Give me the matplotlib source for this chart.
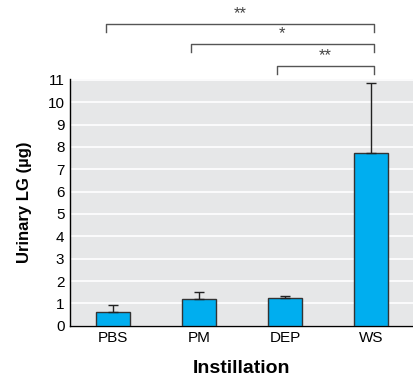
import matplotlib.pyplot as plt
import numpy as np

plt.rcParams['font.family'] = ['Liberation Sans', 'DejaVu Sans']

groups = ["PBS", "PM", "DEP", "WS"]
means = [0.63, 1.21, 1.26, 7.75]
upper_err = [0.28, 0.29, 0.06, 3.1]
yticks = list(range(0, 12))

# significance brackets: (left group, right group, label, height)
brackets = [(0, 3, "**", 13.5), (1, 3, "*", 12.62), (2, 3, "**", 11.61)]

fig = plt.figure(figsize=(4.14, 3.77), dpi=100)
ax = fig.add_axes([0.169, 0.136, 0.831, 0.655])
ax.set_facecolor("#e6e7e8")

x = np.arange(len(groups))
ax.bar(x, means, width=0.39, color="#00aeef", edgecolor="#333333", linewidth=1.0, zorder=3,
       yerr=[np.zeros(len(means)), upper_err], error_kw=dict(ecolor="#222222", elinewidth=1.0, capsize=3.5, capthick=1.0))

ax.set_xlim(-0.5, 3.5)
ax.set_ylim(0, 11.05)
ax.set_yticks(yticks)
ax.set_yticklabels([str(t) for t in yticks], fontsize=11)
ax.set_xticks(x)
ax.set_xticklabels(groups, fontsize=11)
ax.tick_params(axis="both", length=0, pad=4)
ax.yaxis.grid(True, color="white", linewidth=1.2, zorder=0)
ax.set_axisbelow(True)
for s in ["top", "right"]:
    ax.spines[s].set_visible(False)
ax.spines["left"].set_color("black")
ax.spines["bottom"].set_color("black")
ax.spines["left"].set_linewidth(1.0)
ax.spines["bottom"].set_linewidth(1.0)

ax.set_ylabel("Urinary LG (µg)", fontsize=12, fontweight="bold", labelpad=11)
ax.set_xlabel("Instillation", fontsize=14, fontweight="bold", labelpad=10.5)

for a, b, lab, h in brackets:
    xa = x[a] - 0.08 if a == 0 else x[a] - 0.09
    xb = x[b] + 0.03
    ax.plot([xa, xa, xb, xb], [h - 0.36, h, h, h - 0.36], color="#555555", linewidth=1.0, clip_on=False)
    ax.text((xa + xb) / 2, h + 0.12, lab, ha="center", va="bottom", fontsize=12, color="#444444", clip_on=False)

fig.savefig("out.png", dpi=100)
